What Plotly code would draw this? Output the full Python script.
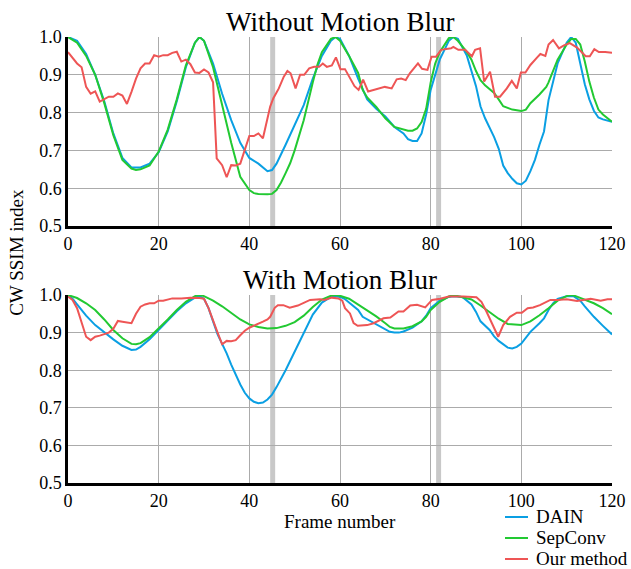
import plotly.graph_objects as go
from plotly.subplots import make_subplots

# ---------------- data ----------------
top_dain_x = [0,2,4,6,8,10,12,14,16,18,20,22,24,26,28,29,30,32,34,36,38,40,42,44,45,46,48,50,52,54,56,58,59,60,62,64,65,66,68,70,72,74,75,76,77,78,79,80,82,84,85,86,88,90,91,92,94,95,96,97,98,99,100,101,102,103,104,105,106,108,110,111,112,113,114,115,116,117,118,120]
top_dain_y = [1.0,0.99,0.955,0.9,0.83,0.745,0.68,0.655,0.655,0.665,0.695,0.75,0.83,0.92,0.985,1.0,0.99,0.93,0.85,0.78,0.72,0.68,0.665,0.645,0.648,0.665,0.715,0.77,0.82,0.89,0.95,0.99,1.0,0.995,0.95,0.89,0.86,0.835,0.81,0.79,0.762,0.745,0.73,0.725,0.725,0.745,0.795,0.86,0.94,0.99,1.0,0.995,0.95,0.87,0.816,0.785,0.735,0.705,0.66,0.64,0.625,0.613,0.61,0.62,0.645,0.675,0.715,0.75,0.833,0.93,0.985,1.0,0.985,0.93,0.875,0.835,0.805,0.787,0.782,0.776]

top_sep_x = [0,2,4,6,8,10,12,14,15,16,18,20,22,24,26,28,29,30,32,34,35,36,38,40,41,42,44,45,46,47,48,49,50,52,54,55,56,58,59,60,62,64,65,66,68,70,72,74,75,76,77,78,79,80,81,82,84,85,86,88,89,90,91,92,94,95,96,98,100,101,102,104,105.5,106,108,110,111,112,113,114,115,116,117,118,120]
top_sep_y = [1.0,0.985,0.95,0.9,0.825,0.74,0.675,0.652,0.648,0.65,0.66,0.697,0.755,0.835,0.925,0.985,1.0,0.99,0.92,0.82,0.772,0.72,0.63,0.595,0.587,0.585,0.584,0.585,0.595,0.615,0.64,0.666,0.7,0.78,0.88,0.926,0.96,0.995,1.0,0.99,0.95,0.905,0.86,0.84,0.815,0.785,0.762,0.754,0.752,0.752,0.758,0.775,0.81,0.88,0.93,0.96,0.997,1.0,0.99,0.96,0.94,0.91,0.886,0.872,0.852,0.835,0.817,0.808,0.804,0.808,0.825,0.848,0.868,0.88,0.94,0.98,0.995,0.995,0.98,0.935,0.882,0.84,0.808,0.795,0.776]

top_our_x = [0,1,2,3,4,5,6,7,8,9,10,11,12,13,14,15,16,17,18,19,20,21,22,23,24,25,26,27,28,29,30,31,32,32.8,34,35,36,37,38,39,40,41,42,43,44,44.6,45.3,46.5,47.6,48.4,49.1,50.2,51.2,52.1,53.2,54.3,55.4,56.2,57.1,58.2,59.1,60.1,61.1,62.3,63.2,64.1,65.1,66.2,68.4,69.9,71.4,72.5,73.5,74.5,75.4,77.2,78.1,79.3,80.2,81.2,82.3,84.5,85,86.1,87.6,89.1,89.8,90.9,91.8,93.1,94.2,95.3,96.8,97.9,99,99.9,100.9,102,103.5,104.2,105.3,106,107,108.3,109.4,110.7,112.3,114.2,115.1,116.1,117.1,118.5,120]
top_our_y = [0.96,0.945,0.93,0.92,0.868,0.85,0.856,0.829,0.835,0.842,0.842,0.851,0.845,0.823,0.855,0.89,0.917,0.93,0.93,0.952,0.948,0.952,0.952,0.958,0.961,0.935,0.94,0.928,0.906,0.905,0.914,0.906,0.88,0.679,0.661,0.629,0.661,0.66,0.665,0.7,0.738,0.738,0.745,0.732,0.78,0.816,0.838,0.864,0.895,0.91,0.904,0.864,0.9,0.9,0.917,0.921,0.921,0.93,0.921,0.925,0.946,0.915,0.915,0.891,0.87,0.86,0.887,0.856,0.864,0.868,0.864,0.888,0.89,0.886,0.904,0.93,0.916,0.913,0.948,0.948,0.966,0.97,0.974,0.966,0.966,0.949,0.966,0.97,0.882,0.908,0.842,0.842,0.864,0.884,0.864,0.906,0.906,0.926,0.946,0.955,0.95,0.98,0.992,0.97,0.978,0.984,0.972,0.949,0.949,0.968,0.96,0.96,0.958]

bot_dain_x = [0,1,2,3,4,6,8,10,12,14,15,16,18,20,22,24,26,28,29,30,31,32,33,34,35,36,37,38,39,40,41,42,43,44,45,46,48,50,52,54,56,58,59,60,61,62,64,65,66,68,70,71,72,73,74,76,78,79,80,82,84,85,87,89,90,91,93,94,95,96,97,98,99,100,101,102,104,105,106,107,108,110,111.5,113,114,116,118,120]
bot_dain_y = [1.0,0.99,0.975,0.96,0.945,0.92,0.9,0.882,0.865,0.854,0.855,0.862,0.882,0.906,0.932,0.957,0.978,0.993,0.997,0.99,0.965,0.93,0.895,0.87,0.845,0.815,0.787,0.762,0.74,0.725,0.716,0.712,0.714,0.722,0.735,0.755,0.8,0.85,0.9,0.948,0.98,0.995,0.997,0.995,0.99,0.98,0.96,0.942,0.935,0.922,0.908,0.902,0.9,0.9,0.903,0.913,0.93,0.945,0.965,0.985,0.995,0.997,0.995,0.975,0.955,0.93,0.907,0.89,0.878,0.868,0.86,0.858,0.862,0.871,0.888,0.902,0.925,0.938,0.96,0.978,0.99,0.997,0.997,0.985,0.97,0.942,0.918,0.895]

bot_sep_x = [0,2,4,6,8,10,12,14,15,16,18,20,22,24,26,28,29,30,32,34,36,38,40,42,44,46,48,50,52,54,56,58,59,60,62,64,66,68,70,71,72,74,76,78,79,80,82,84,85,87,89,91,93,95,97,99,100,102,104,106,108,110,111,112,114,116,118,120]
bot_sep_y = [1.0,0.992,0.978,0.96,0.935,0.907,0.885,0.87,0.869,0.872,0.888,0.911,0.935,0.96,0.982,0.997,1.0,0.997,0.985,0.97,0.952,0.935,0.922,0.915,0.911,0.912,0.918,0.928,0.945,0.968,0.988,0.998,1.0,0.998,0.99,0.975,0.958,0.943,0.925,0.915,0.911,0.911,0.917,0.93,0.942,0.96,0.982,0.996,1.0,0.995,0.988,0.972,0.955,0.937,0.923,0.92,0.92,0.93,0.946,0.965,0.985,0.997,1.0,0.997,0.988,0.978,0.965,0.949]

bot_our_x = [0,1,2,3,4,5,6,7,8,9,10,11,12,13,14,15,16,17,18,19,20,21,22,23,25,27,29,30,31,32,33,34,35,36,37,38,39,40,41,42,43,44,44.6,45.6,46.3,47.5,48.9,50.7,51.9,53.4,55.6,56.6,58.2,59.6,60.5,61.1,62.2,63,63.9,66,67.4,69.6,71.1,72.9,74,75.5,77,78.8,80.3,82.1,84,87.2,90.1,91.2,92.3,93.4,94.9,96,97.5,99,100.1,101.4,102.6,104.1,106.4,107.9,110,112.3,115.3,117.5,119,120]
bot_our_y = [0.996,0.987,0.965,0.93,0.889,0.88,0.889,0.892,0.895,0.9,0.91,0.931,0.929,0.926,0.925,0.95,0.969,0.975,0.978,0.978,0.985,0.985,0.988,0.991,0.991,0.993,0.992,0.99,0.965,0.935,0.9,0.869,0.878,0.877,0.88,0.893,0.905,0.913,0.918,0.922,0.929,0.935,0.942,0.966,0.973,0.973,0.966,0.972,0.978,0.987,0.989,0.987,0.993,0.991,0.985,0.965,0.951,0.925,0.918,0.92,0.925,0.938,0.94,0.956,0.956,0.972,0.974,0.967,0.987,0.99,0.996,0.996,0.994,0.982,0.956,0.929,0.889,0.92,0.942,0.953,0.953,0.965,0.967,0.973,0.987,0.987,0.989,0.984,0.99,0.985,0.989,0.989]

highlight_frames = [(44.6, 45.7), (81.2, 82.3)]
x_ticks = [0, 20, 40, 60, 80, 100, 120]
y_ticks = [0.5, 0.6, 0.7, 0.8, 0.9, 1.0]
y_tick_text = ["0.5", "0.6", "0.7", "0.8", "0.9", "1.0"]

titles = ["Without Motion Blur", "With Motion Blur"]
names = ["DAIN", "SepConv", "Our method"]
colors = ["#0A9FE3", "#22C932", "#EE5555"]

FONT = "Liberation Serif"
TICK_SIZE = 18
LABEL_SIZE = 19
TITLE_SIZE = 27

fig = make_subplots(rows=2, cols=1)

panels = [
    [(top_dain_x, top_dain_y), (top_sep_x, top_sep_y), (top_our_x, top_our_y)],
    [(bot_dain_x, bot_dain_y), (bot_sep_x, bot_sep_y), (bot_our_x, bot_our_y)],
]
for r, panel in enumerate(panels, start=1):
    for i, (xs, ys) in enumerate(panel):
        fig.add_trace(go.Scatter(x=xs, y=ys, mode="lines", name=names[i],
                                 line=dict(color=colors[i], width=2),
                                 showlegend=False), row=r, col=1)
    for (a, b) in highlight_frames:
        xr = "x" if r == 1 else "x2"
        yr = "y domain" if r == 1 else "y2 domain"
        fig.add_shape(type="rect", xref=xr, yref=yr, x0=a, x1=b, y0=0, y1=1,
                      fillcolor="#C8C8C8", line_width=0, layer="below")

fig.update_xaxes(range=[0, 120], tickvals=x_ticks, showgrid=True, gridcolor="#ABABAB",
                 gridwidth=1, showline=True, linecolor="black", linewidth=2.5,
                 ticks="", zeroline=False, automargin=False,
                 tickfont=dict(family=FONT, size=TICK_SIZE, color="black"))
fig.update_yaxes(range=[0.5, 1.0], tickvals=y_ticks, ticktext=y_tick_text, showgrid=True,
                 gridcolor="#ABABAB", gridwidth=1, showline=True, linecolor="black",
                 linewidth=2.5, ticks="", zeroline=False, automargin=False,
                 tickfont=dict(family=FONT, size=TICK_SIZE, color="black"))

# legend drawn as lines + text below the lower panel (right side)
legend_rows_y = [-0.0762, -0.1233, -0.1704]
annotations = [
    dict(text=titles[0], x=0.5, xref="paper", y=1.0, yref="paper", yanchor="bottom",
         xanchor="center", showarrow=False,
         font=dict(family=FONT, size=TITLE_SIZE, color="black"), yshift=-2),
    dict(text=titles[1], x=0.5, xref="paper", y=0.4215, yref="paper", yanchor="bottom",
         xanchor="center", showarrow=False,
         font=dict(family=FONT, size=TITLE_SIZE, color="black"), yshift=-2),
    dict(text="CW SSIM index", x=-0.094, xref="paper", y=0.518, yref="paper",
         xanchor="center", yanchor="middle",
         textangle=-90, showarrow=False, font=dict(family=FONT, size=LABEL_SIZE, color="black")),
    dict(text="Frame number", x=0.5, xref="paper", y=-0.086, yref="paper",
         xanchor="center", yanchor="middle",
         showarrow=False, font=dict(family=FONT, size=LABEL_SIZE, color="black")),
]
for name, color, ly in zip(names, colors, legend_rows_y):
    fig.add_shape(type="line", xref="paper", yref="paper", x0=0.8033, x1=0.8456,
                  y0=ly, y1=ly, line=dict(color=color, width=2))
    annotations.append(dict(text=name, x=0.857, xref="paper", y=ly, yref="paper",
                            xanchor="left", yanchor="middle", showarrow=False,
                            font=dict(family=FONT, size=LABEL_SIZE, color="black")))

fig.update_layout(
    width=631, height=569,
    margin=dict(l=68, r=19, t=37, b=86),
    plot_bgcolor="white", paper_bgcolor="white",
    font=dict(family=FONT, color="black"),
    showlegend=False,
    annotations=annotations,
)
fig.update_layout(yaxis=dict(domain=[0.5762, 1.0]), yaxis2=dict(domain=[0.0, 0.4215]))

fig.write_html("out.html")
